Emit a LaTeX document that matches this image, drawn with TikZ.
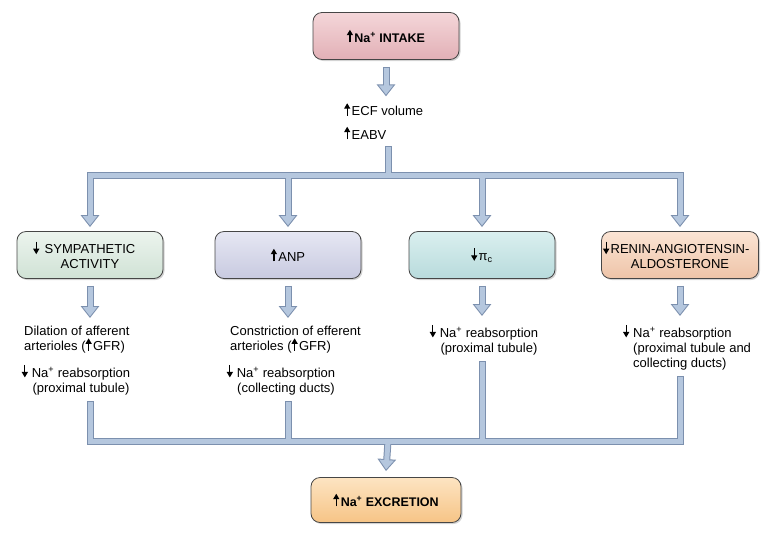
\documentclass[tikz,border=0pt]{standalone}
\usepackage{fontspec}
\setmainfont{Liberation Sans}
\usetikzlibrary{arrows.meta,shadows}

\definecolor{pipefill}{RGB}{181,199,222}
\definecolor{pipeedge}{RGB}{124,144,174}
\definecolor{boxedge}{RGB}{70,70,70}

% small solid arrows set in the text line
\newcommand\upa{\tikz[baseline=0pt,x=1pt,y=1pt]\draw[black,line width=1.3pt,-{Triangle[length=5.5pt,width=6pt]}] (0,-0.3) -- (0,12.3);\hspace{1.5pt}}
\newcommand\dna{\tikz[baseline=0pt,x=1pt,y=1pt]\draw[black,line width=1.3pt,-{Triangle[length=5.5pt,width=6pt]}] (0,12.3) -- (0,-0.3);\hspace{1.5pt}}
\newcommand\na{Na\textsuperscript{+}}

\tikzset{
  box/.style={draw=boxedge, line width=0.8pt, rounded corners=9pt,
    minimum width=146pt, minimum height=47pt, align=center,
    drop shadow={shadow xshift=1.5pt, shadow yshift=-1.5pt, opacity=0.35}},
  txt/.style={inner xsep=1pt, inner ysep=6pt},
  pipeout/.style={line width=7pt, draw=pipeedge,
    tipend/.style={-{Triangle[length=12pt,width=18pt]}}},
  pipein/.style={line width=5pt, draw=pipefill, shorten <=1pt,
    tipend/.style={-{Triangle[length=9.3pt,width=14pt]}, shorten >=1.7pt}}
}

\begin{document}
\begin{tikzpicture}[x=1pt, y=-1pt, font=\fontsize{13}{15}\selectfont]
\useasboundingbox (0,0) rectangle (779,539);

\node[box, top color={rgb,255:red,244;green,214;blue,217}, bottom color={rgb,255:red,226;green,176;blue,182}] (intake) at (386,36) {\fontsize{12.5}{15}\selectfont\textbf{\upa\na\ INTAKE}};
\node[txt, anchor=base west] (ecf) at (343,115.5) {\upa ECF volume};
\node[txt, anchor=base west] (eabv) at (343,139) {\upa EABV};
\coordinate (split) at (388,175);

\node[box, top color={rgb,255:red,236;green,244;blue,238}, bottom color={rgb,255:red,208;green,226;blue,213}] (sym) at (90,255) {\llap{\dna\hspace{4pt}}SYMPATHETIC\\ACTIVITY};
\node[box, top color={rgb,255:red,230;green,231;blue,243}, bottom color={rgb,255:red,200;green,202;blue,224}] (anp) at (288,255) {\upa ANP};
\node[box, top color={rgb,255:red,218;green,239;blue,239}, bottom color={rgb,255:red,184;green,219;blue,220}] (pic) at (482,255) {\dna π\textsubscript{c}};
\node[box, minimum width=157pt, top color={rgb,255:red,251;green,228;blue,212}, bottom color={rgb,255:red,238;green,196;blue,168}] (raa) at (680,255) {\llap{\dna}RENIN-ANGIOTENSIN-\\ALDOSTERONE};

\node[txt, anchor=north west, align=left] (dilat) at (23,320) {Dilation of afferent\\arterioles (\upa GFR)};
\node[txt, anchor=north, align=center] (symna) at (81,358) {\llap{\dna\hspace{2.5pt}}\na\ reabsorption\\(proximal tubule)};
\node[txt, anchor=north west, align=left] (constr) at (229,320) {Constriction of efferent\\arterioles (\upa GFR)};
\node[txt, anchor=north, align=center] (anpna) at (286,358) {\llap{\dna\hspace{2.5pt}}\na\ reabsorption\\(collecting ducts)};
\node[txt, anchor=north, align=center] (picna) at (489,318) {\llap{\dna\hspace{2.5pt}}\na\ reabsorption\\(proximal tubule)};
\node[txt, anchor=north west, align=left] (raana) at (632,318) {\llap{\dna\hspace{2.5pt}}\na\ reabsorption\\(proximal tubule and\\collecting ducts)};

\coordinate (join) at (388,441);
\node[box, minimum width=150pt, minimum height=45pt, top color={rgb,255:red,253;green,228;blue,194}, bottom color={rgb,255:red,246;green,196;blue,134}] (excr) at (386,500) {\fontsize{12.5}{15}\selectfont\textbf{\upa\na\ EXCRETION}};

% pipes: outline first, then fill
\foreach \pass in {pipeout,pipein}{
  \draw[\pass, tipend] ([yshift=-7pt]intake.south) -- (intake |- ecf.north);
  \foreach \b in {sym,anp,pic,raa}
    \draw[\pass, tipend] (split |- eabv.south) -- (split) -| ([yshift=4pt]\b.north);
  \foreach \b/\t in {sym/dilat,anp/constr,pic/picna,raa/raana}
    \draw[\pass, tipend] ([yshift=-7pt]\b.south) -- ([yshift=2pt]\b |- \t.north);
  \foreach \b/\t in {sym/symna,anp/anpna,pic/picna,raa/raana}
    \draw[\pass] (\b |- \t.south) |- (join);
  \draw[\pass, tipend] (join) -- ([yshift=6pt]excr.north);
}
\end{tikzpicture}
\end{document}
